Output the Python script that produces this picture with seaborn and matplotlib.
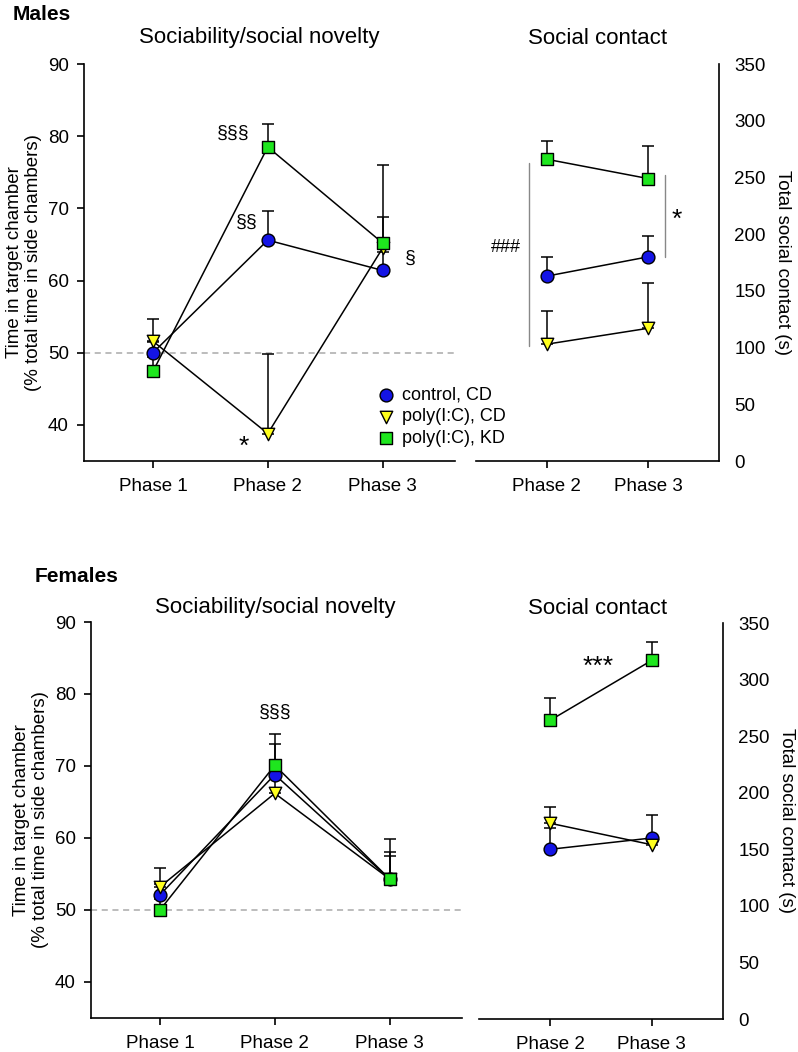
import numpy as np
import pandas as pd
import matplotlib
matplotlib.use("Agg")
import matplotlib.pyplot as plt
import seaborn as sns

# ---------------- data ----------------
groups = ["control, CD", "poly(I:C), CD", "poly(I:C), KD"]
phases_all = ["Phase 1", "Phase 2", "Phase 3"]
phases_sc = ["Phase 2", "Phase 3"]

# Males - sociability / social novelty (% time)
m_soc_control = [50.0, 65.6, 61.4]
m_soc_control_err = [1.5, 4.0, 2.5]
m_soc_polycd = [51.6, 38.8, 64.5]
m_soc_polycd_err = [3.1, 11.0, 4.3]
m_soc_polykd = [47.4, 78.5, 65.2]
m_soc_polykd_err = [2.0, 3.2, 10.8]

# Males - social contact (s)
m_con_control = [163, 180]
m_con_control_err = [17, 18]
m_con_polycd = [103, 117]
m_con_polycd_err = [29, 40]
m_con_polykd = [266, 249]
m_con_polykd_err = [16, 29]

# Females - sociability / social novelty (% time)
f_soc_control = [52.1, 68.8, 54.3]
f_soc_control_err = [1.5, 4.3, 3.7]
f_soc_polycd = [53.2, 66.2, 54.3]
f_soc_polycd_err = [2.6, 2.5, 3.2]
f_soc_polykd = [50.0, 70.1, 54.3]
f_soc_polykd_err = [1.5, 4.3, 5.6]

# Females - social contact (s)
f_con_control = [150, 160]
f_con_control_err = [19, 20]
f_con_polycd = [173, 154]
f_con_polycd_err = [14, 3]
f_con_polykd = [264, 317]
f_con_polykd_err = [20, 16]

colors = {"control, CD": "#1414e6", "poly(I:C), CD": "#ffff1e", "poly(I:C), KD": "#1ee61e"}
markers = {"control, CD": "o", "poly(I:C), CD": "v", "poly(I:C), KD": "s"}
sizes = {"control, CD": 85, "poly(I:C), CD": 80, "poly(I:C), KD": 70}

# ---------------- style ----------------
sns.set_theme(style="ticks")
plt.rcParams["font.family"] = ["Liberation Sans", "DejaVu Sans"]
plt.rcParams["axes.linewidth"] = 1.2
plt.rcParams["xtick.major.width"] = 1.2
plt.rcParams["ytick.major.width"] = 1.2
plt.rcParams["xtick.major.size"] = 5
plt.rcParams["ytick.major.size"] = 5
plt.rcParams["axes.edgecolor"] = "black"
plt.rcParams["xtick.color"] = "black"
plt.rcParams["ytick.color"] = "black"
plt.rcParams["text.color"] = "black"
plt.rcParams["axes.labelcolor"] = "black"

W, H = 798, 1052
fig = plt.figure(figsize=(W / 100, H / 100), dpi=100)


def px_axes(x0, y0, x1, y1):
    ax = fig.add_axes([x0 / W, 1 - y1 / H, (x1 - x0) / W, (y1 - y0) / H])
    ax.patch.set_alpha(0)
    return ax


def make_df(phases, vals, errs):
    rows = []
    for g, v, e in zip(groups, vals, errs):
        for i, (vv, ee) in enumerate(zip(v, e)):
            rows.append({"group": g, "x": i, "phase": phases[i], "value": vv, "err": ee})
    return pd.DataFrame(rows)


def draw(ax, df, legend=False):
    sns.lineplot(data=df, x="x", y="value", hue="group", palette={g: "black" for g in groups},
                 ax=ax, legend=False, linewidth=1.1, zorder=2, errorbar=None, sort=True)
    for g in groups:
        sub = df[df.group == g]
        ax.errorbar(sub.x, sub.value, yerr=[np.zeros(len(sub)), sub.err], fmt="none",
                    ecolor="black", elinewidth=1.1, capsize=4.5, capthick=1.1, zorder=3)
    for g in groups:
        sub = df[df.group == g]
        sns.scatterplot(data=sub, x="x", y="value", color=colors[g], marker=markers[g],
                        s=sizes[g], edgecolor="black", linewidth=1.0, ax=ax, zorder=4,
                        label=g if legend else None, legend=legend)
    ax.set_xlabel("")
    ax.set_ylabel("")


def style_left(ax, phases):
    ax.set_xlim(-0.6, 2.63)
    ax.set_ylim(35, 90)
    ax.set_yticks([40, 50, 60, 70, 80, 90])
    ax.set_xticks(range(len(phases)))
    ax.set_xticklabels(phases)
    ax.tick_params(labelsize=13.5, pad=6)
    ax.tick_params(axis="x", pad=7)
    sns.despine(ax=ax)
    ax.axhline(50, color="#aaaaaa", linestyle=(0, (4, 3)), linewidth=1.1, zorder=1)
    ax.set_ylabel("Time in target chamber\n(% total time in side chambers)", fontsize=13.5,
                  labelpad=4, linespacing=1.2)


def style_right(ax, phases):
    ax.set_xlim(-0.7, 1.7)
    ax.set_ylim(0, 350)
    ax.set_yticks(range(0, 351, 50))
    ax.set_xticks(range(len(phases)))
    ax.set_xticklabels(phases)
    ax.yaxis.tick_right()
    ax.yaxis.set_label_position("right")
    ax.tick_params(labelsize=13.5, pad=6)
    ax.tick_params(axis="x", pad=7)
    sns.despine(ax=ax, left=True, right=False)
    ax.set_ylabel("Total social contact (s)", fontsize=13.5, rotation=270, labelpad=18)


# ---------------- Males ----------------
axA = px_axes(84, 64, 455, 461)
dfA = make_df(phases_all, [m_soc_control, m_soc_polycd, m_soc_polykd],
              [m_soc_control_err, m_soc_polycd_err, m_soc_polykd_err])
draw(axA, dfA, legend=True)
style_left(axA, phases_all)
leg = axA.legend(loc="upper left", bbox_to_anchor=(0.765, 0.205), frameon=False, fontsize=13,
                 handletextpad=0.3, labelspacing=0.25, borderaxespad=0, handlelength=1.2)
leg.set_zorder(10)
axA.text(0.70, 80.4, "§§§", fontsize=14, ha="center", va="center")
axA.text(0.82, 68.0, "§§", fontsize=14, ha="center", va="center")
axA.text(2.24, 63.1, "§", fontsize=14, ha="center", va="center")
axA.text(0.79, 37.0, "*", fontsize=19, ha="center", va="center")

axB = px_axes(476, 64, 719, 461)
dfB = make_df(phases_sc, [m_con_control, m_con_polycd, m_con_polykd],
              [m_con_control_err, m_con_polycd_err, m_con_polykd_err])
draw(axB, dfB)
style_right(axB, phases_sc)
axB.plot([-0.18, -0.18], [101, 263], color="#888888", linewidth=1.0)
axB.text(-0.40, 188, "###", fontsize=13, ha="center", va="center")
axB.plot([1.17, 1.17], [180, 252], color="#888888", linewidth=1.0)
axB.text(1.28, 213, "*", fontsize=19, ha="center", va="center")

# ---------------- Females ----------------
axC = px_axes(91, 622, 462, 1018)
dfC = make_df(phases_all, [f_soc_control, f_soc_polycd, f_soc_polykd],
              [f_soc_control_err, f_soc_polycd_err, f_soc_polykd_err])
draw(axC, dfC)
style_left(axC, phases_all)
axC.text(1.0, 77.5, "§§§", fontsize=14, ha="center", va="center")

axD = px_axes(479, 623, 723, 1019)
dfD = make_df(phases_sc, [f_con_control, f_con_polycd, f_con_polykd],
              [f_con_control_err, f_con_polycd_err, f_con_polykd_err])
draw(axD, dfD)
style_right(axD, phases_sc)
axD.text(0.47, 311, "***", fontsize=19, ha="center", va="center")

# ---------------- titles ----------------
fig.text(13 / W, 1 - 15 / H, "Males", fontsize=15, fontweight="bold", ha="left", va="center")
fig.text(35 / W, 1 - 576 / H, "Females", fontsize=15, fontweight="bold", ha="left", va="center")
fig.text(259 / W, 1 - 37 / H, "Sociability/social novelty", fontsize=16, ha="center", va="center")
fig.text(598 / W, 1 - 38 / H, "Social contact", fontsize=16, ha="center", va="center")
fig.text(275 / W, 1 - 608 / H, "Sociability/social novelty", fontsize=16, ha="center", va="center")
fig.text(598 / W, 1 - 608 / H, "Social contact", fontsize=16, ha="center", va="center")

fig.savefig("out.png", dpi=100)
